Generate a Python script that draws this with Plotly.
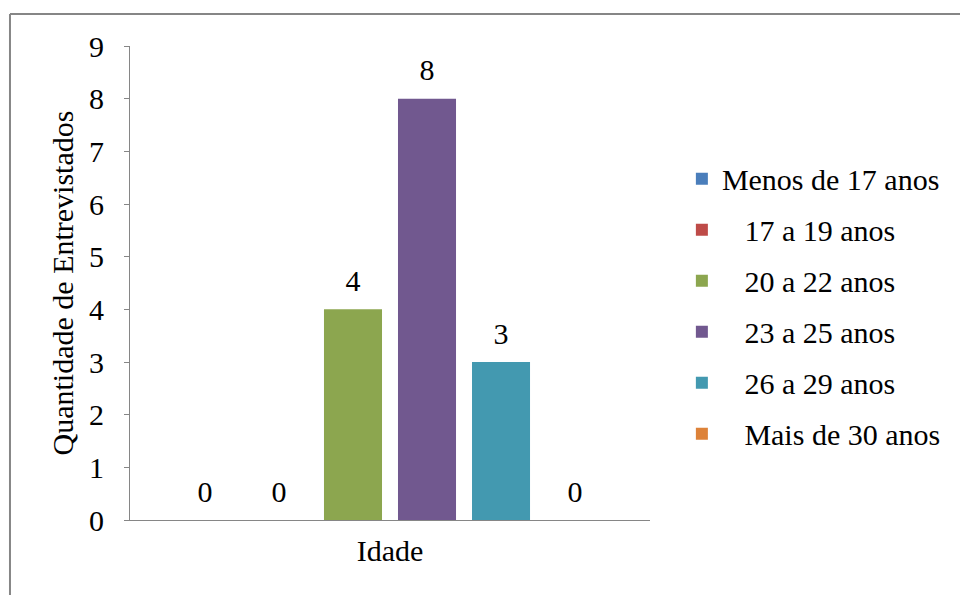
import plotly.graph_objects as go

category = ["Idade"]
series_names = ["Menos de 17 anos", "17 a 19 anos", "20 a 22 anos",
                "23 a 25 anos", "26 a 29 anos", "Mais de 30 anos"]
legend_labels = ["Menos de 17 anos", "\u00a0\u00a0\u00a017 a 19 anos", "\u00a0\u00a0\u00a020 a 22 anos",
                 "\u00a0\u00a0\u00a023 a 25 anos", "\u00a0\u00a0\u00a026 a 29 anos", "\u00a0\u00a0\u00a0Mais de 30 anos"]
values = [0, 0, 4, 8, 3, 0]
colors = ["#4A7EBB", "#BE4B48", "#8CA64F", "#71588F", "#4399B0", "#DD8239"]
y_ticks = [0, 1, 2, 3, 4, 5, 6, 7, 8, 9]

FONT = "Liberation Serif"

fig = go.Figure()
for name, lab, v, c in zip(series_names, legend_labels, values, colors):
    fig.add_trace(go.Bar(
        x=category, y=[v], name=lab, marker=dict(color=c, line=dict(width=0)),
        offsetgroup=name, legendgroup=name,
    ))
for name, v in zip(series_names, values):
    fig.add_trace(go.Scatter(
        x=category, y=[v], mode="markers+text", text=[str(v)], textposition="top center",
        marker=dict(size=16, color="rgba(0,0,0,0)"), cliponaxis=False,
        textfont=dict(family=FONT, size=30, color="#000"),
        offsetgroup=name, showlegend=False, hoverinfo="skip",
    ))

fig.update_layout(
    width=960, height=595,
    margin=dict(l=130, r=310, t=46, b=75, autoexpand=False),
    paper_bgcolor="white", plot_bgcolor="white",
    barmode="group", bargap=0.146, bargroupgap=0.216,
    scattermode="group", scattergap=0.146,
    font=dict(family=FONT, size=30, color="#000"),
    showlegend=True,
    legend=dict(x=1.0613, xanchor="left", y=0.451, yanchor="middle",
                font=dict(family=FONT, size=30, color="#000"),
                tracegroupgap=9, traceorder="grouped", itemwidth=30,
                bgcolor="rgba(0,0,0,0)"),
    xaxis=dict(showline=True, linecolor="#868686", linewidth=1, ticks="",
               showgrid=False, zeroline=False, ticklabelstandoff=4,
               tickfont=dict(family=FONT, size=30, color="#000")),
    yaxis=dict(range=[0, 9], tickvals=y_ticks, showline=True, linecolor="#868686",
               linewidth=1, ticks="outside", ticklen=5, tickcolor="#868686",
               showgrid=False, zeroline=False, ticklabelstandoff=14,
               tickfont=dict(family=FONT, size=30, color="#000"),
               title=dict(text="Quantidade de Entrevistados",
                          font=dict(family=FONT, size=30, color="#000"), standoff=6)),
    shapes=[
        dict(type="line", xref="paper", yref="paper", x0=-0.2308, x1=1.7, y0=1.0675, y1=1.0675,
             line=dict(color="#868686", width=2)),
        dict(type="line", xref="paper", yref="paper", x0=-0.2308, x1=-0.2308, y0=-0.2, y1=1.0675,
             line=dict(color="#868686", width=2)),
    ],
)

fig.write_html("out.html")
